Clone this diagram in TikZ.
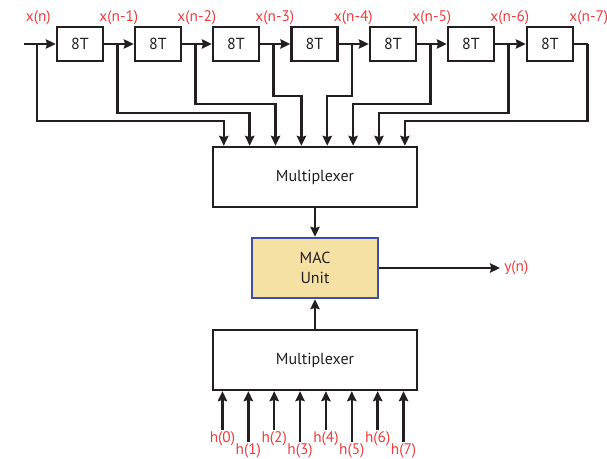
\documentclass[tikz,border=0pt]{standalone}
\usepackage{fontspec}
\setmainfont{PT Sans}
\definecolor{wireblack}{HTML}{231F20}
\definecolor{labelred}{HTML}{EE3B3B}
\definecolor{macfill}{HTML}{F6E1A4}
\definecolor{macedge}{HTML}{3D4FA1}
\usetikzlibrary{arrows.meta,positioning}

\begin{document}
\begin{tikzpicture}[
  x=0.75pt,y=-0.75pt,
  line join=miter,
  wire/.style={draw=wireblack,line width=1.8pt},
  sigarrow/.style={wire,-{Stealth[length=7.5pt,width=7pt,inset=1pt]}},
  delaybox/.style={draw=wireblack,line width=1.8pt,minimum width=34.5pt,minimum height=25.5pt,inner sep=0pt,font=\fontsize{12}{14}\selectfont,text=wireblack},
  muxbox/.style={draw=wireblack,line width=1.8pt,minimum width=153pt,minimum height=45pt,inner sep=0pt,font=\fontsize{12}{14}\selectfont,text=wireblack},
  macbox/.style={draw=macedge,fill=macfill,line width=1.8pt,minimum width=94.5pt,minimum height=45pt,inner sep=0pt,align=center,font=\fontsize{12}{15}\selectfont,text=wireblack},
  siglabel/.style={font=\fontsize{11.5}{13}\selectfont,text=labelred,inner sep=1pt}
]
  \useasboundingbox (0,0) rectangle (607,459);

  % delay line
  \coordinate (in) at (24,44);
  \foreach \i/\cx in {1/80,2/158,3/236,4/314.5,5/393,6/471,7/550}
    \node[delaybox] (d\i) at (\cx,44) {8T};

  \node[muxbox] (muxx) at (315,177) {Multiplexer};
  \node[macbox] (mac) at (315,268) {MAC\\Unit};
  \node[muxbox] (muxh) at (315,360) {Multiplexer};

  \draw[sigarrow] (in) -- (d1);
  \foreach \i [count=\j from 2] in {1,...,6}
    \draw[sigarrow] (d\i) -- (d\j);

  % taps
  \coordinate (t0) at (37,44);
  \foreach \i in {1,...,7}
    \coordinate (t\i) at ([xshift=10pt]d\i.east);

  \foreach \k/\lab in {0/x(n),1/x(n-1),2/x(n-2),3/x(n-3),4/x(n-4),5/x(n-5),6/x(n-6),7/x(n-7)}
    \node[siglabel] (xl\k) at ([xshift=1pt,yshift=19.5pt]t\k) {\lab};

  % tap lines into the upper multiplexer
  \foreach \k in {0,...,7}
    \coordinate (m\k) at ([xshift={9pt+19.4pt*\k}]muxx.north west);
  \draw[wire] (d7) -- (t7);
  \foreach \k/\lev in {0/121,1/113,2/104,3/96,4/96,5/104,6/113,7/121}
    \draw[sigarrow] (t\k) |- (m\k |- 0,\lev) -- (m\k);

  % MAC
  \draw[sigarrow] (muxx) -- (mac);
  \draw[sigarrow] (muxh) -- (mac);
  \coordinate (out) at (500,268);
  \draw[sigarrow] (mac) -- (out);
  \node[siglabel,right=2pt of out] (ylab) {y(n)};

  % coefficients
  \foreach \k/\len in {0/29,1/38,2/29,3/38,4/29,5/38,6/29,7/38} {
    \coordinate (h\k) at ([xshift={8pt+19.4pt*\k}]muxh.south west);
    \coordinate (hs\k) at ([yshift=-\len pt]h\k);
    \draw[sigarrow] (hs\k) -- (h\k);
    \node[siglabel,below=0pt of hs\k] (hl\k) {h(\k)};
  }
\end{tikzpicture}
\end{document}
